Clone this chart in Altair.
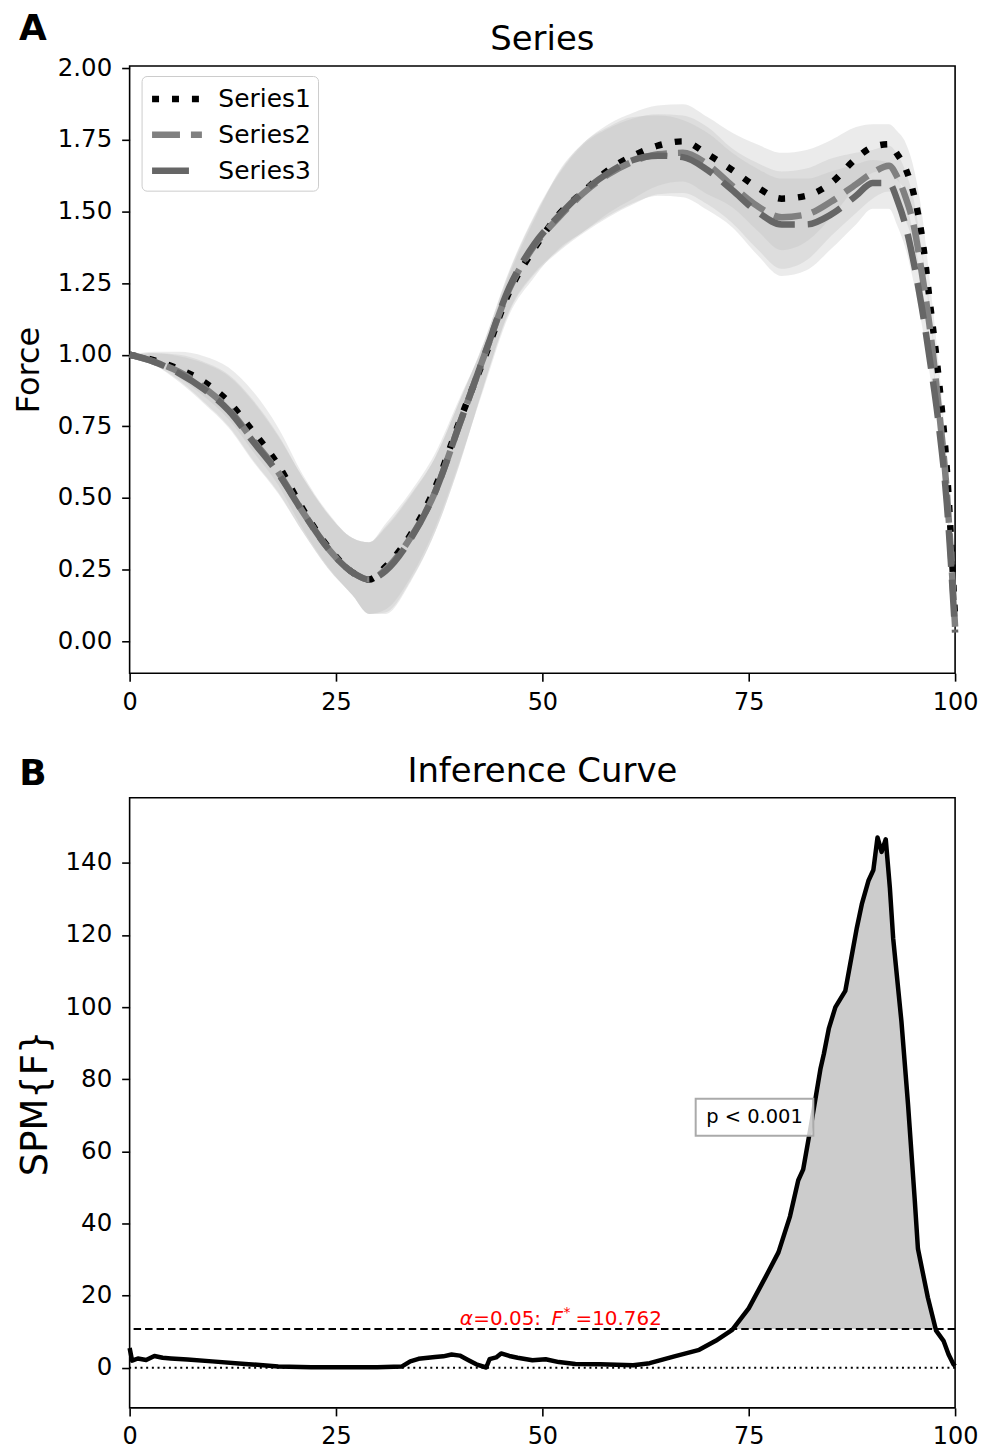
import altair as alt
import pandas as pd
import numpy as np

FONT = "DejaVu Sans"

# ---------------- Panel A data ----------------
A_X = [0, 3, 6, 9, 12, 15, 18, 21, 24, 27, 29, 31, 34, 37, 40, 43, 46, 49, 52, 55, 58, 61, 64, 67, 70,
       73, 76, 79, 82, 85, 88, 90, 92, 93, 94, 95, 96, 97, 98, 99, 100]
S1 = [1.00, 0.98, 0.95, 0.905, 0.835, 0.73, 0.615, 0.46, 0.33, 0.24, 0.215, 0.26, 0.37, 0.535, 0.77, 0.99,
      1.22, 1.37, 1.49, 1.57, 1.645, 1.695, 1.73, 1.745, 1.70, 1.645, 1.585, 1.545, 1.555, 1.60, 1.685,
      1.725, 1.735, 1.70, 1.65, 1.56, 1.41, 1.17, 0.92, 0.60, 0.08]
S2 = [1.00, 0.975, 0.94, 0.885, 0.81, 0.70, 0.59, 0.45, 0.325, 0.24, 0.215, 0.25, 0.36, 0.52, 0.76, 1.0,
      1.23, 1.38, 1.48, 1.565, 1.63, 1.675, 1.70, 1.705, 1.665, 1.59, 1.52, 1.48, 1.49, 1.535, 1.595,
      1.635, 1.66, 1.62, 1.55, 1.45, 1.28, 1.08, 0.82, 0.52, 0.05]
S3 = [1.00, 0.975, 0.935, 0.88, 0.805, 0.695, 0.585, 0.45, 0.325, 0.24, 0.215, 0.245, 0.355, 0.52, 0.76, 1.0,
      1.235, 1.385, 1.485, 1.57, 1.635, 1.68, 1.695, 1.69, 1.645, 1.575, 1.50, 1.455, 1.455, 1.49, 1.555,
      1.60, 1.60, 1.54, 1.45, 1.32, 1.16, 0.97, 0.76, 0.48, 0.03]
BAND_UP = [0, .03, .06, .09, .12, .14, .13, .12, .12, .12, .13, .15, .15, .12, .08, .05, .06, .10, .15, .17,
           .16, .15, .14, .13, .13, .13, .15, .16, .16, .15, .11, .08, .07, .08, .09, .09, .08, .07, .05, .03, .02]
BAND_DN = [0, .01, .03, .05, .06, .07, .07, .07, .07, .08, .12, .15, .15, .14, .14, .10, .08, .10, .12, .14,
           .15, .15, .14, .14, .14, .13, .15, .18, .16, .12, .10, .09, .09, .09, .08, .07, .06, .05, .04, .03, .02]
SERIES = ["Series1", "Series2", "Series3"]

# ---------------- Panel B data ----------------
B_X = [0, 0.3, 1, 2, 3, 4, 5, 7, 10, 14, 18, 22, 26, 30, 33, 34, 35, 37, 38, 39, 40, 41, 42, 43.2, 43.6,
       44.4, 45, 46, 47, 48.8, 50.4, 52, 54, 57, 61, 63, 66, 69, 71, 73, 75, 77, 78.6, 80, 81, 81.6, 82.6,
       83.7, 84.1, 84.7, 85.5, 86.7, 87.3, 88.1, 88.7, 89.5, 90.1, 90.6, 91.1, 91.6, 92.1, 92.5, 93.5, 94.3,
       95.1, 95.5, 96.7, 97.7, 98.6, 99.2, 99.8, 100]
B_F = [5.5, 2.0, 2.6, 2.2, 3.3, 2.8, 2.6, 2.3, 1.8, 1.1, 0.4, 0.2, 0.2, 0.2, 0.4, 1.8, 2.5, 3.0, 3.2, 3.7,
       3.4, 2.2, 1.0, 0.1, 2.4, 2.9, 4.0, 3.3, 2.8, 2.1, 2.4, 1.6, 1.1, 1.0, 0.7, 1.3, 3.2, 5.0, 7.5, 10.5,
       16.5, 25, 32, 42, 52, 55, 68, 83, 87, 94, 100, 104.5, 112, 122, 128.5, 135, 138, 147, 143, 146.5,
       133, 119, 96, 73, 47, 33, 19.5, 10.3, 7.5, 3.8, 1.0, 0.5]
THR = 10.762
P_LABEL = "p < 0.001"
P_X, P_Y = 75.7, 69.45
THR_LABEL_X = 40.0
THR_PARTS = ["α", "=0.05:", "F", "*", "=10.762"]
TITLES = ["Series", "Inference Curve"]
LETTERS = ["A", "B"]

# ---------------- build tables ----------------
rows_line, rows_band = [], []
for name, vals in zip(SERIES, [S1, S2, S3]):
    for x, v, u, d in zip(A_X, vals, BAND_UP, BAND_DN):
        rows_line.append({"series": name, "x": x, "y": v})
        rows_band.append({"series": name, "x": x, "lo": v - d, "hi": v + u})
df_line = pd.DataFrame(rows_line)
df_band = pd.DataFrame(rows_band)

fx, fy = [], []
for i in range(len(B_X)):
    if i > 0:
        y0, y1 = B_F[i - 1] - THR, B_F[i] - THR
        if y0 * y1 < 0:
            t = y0 / (y0 - y1)
            fx.append(B_X[i - 1] + t * (B_X[i] - B_X[i - 1]))
            fy.append(THR)
    fx.append(B_X[i])
    fy.append(max(B_F[i], THR))
df_fill = pd.DataFrame({"x": fx, "y": fy, "thr": THR})
df_b = pd.DataFrame({"x": B_X, "f": B_F})

W = 828
XAX = alt.Axis(values=[0, 25, 50, 75, 100], title=None, grid=False, tickSize=8, labelFontSize=24,
               labelPadding=9, labelFont=FONT, labelColor="black", domain=False, labelFlush=False)
xs = alt.Scale(domain=[0, 100], nice=False, zero=False)


def header(title, letter, ty, ly):
    t = alt.Chart(pd.DataFrame({"t": [title]})).mark_text(
        fontSize=34, font=FONT, align="center", baseline="middle", color="black"
    ).encode(text="t:N", x=alt.value(W / 2), y=alt.value(ty))
    l = alt.Chart(pd.DataFrame({"t": [letter]})).mark_text(
        fontSize=36, fontWeight="bold", font=FONT, align="center", baseline="middle", color="black"
    ).encode(text="t:N", x=alt.value(-97), y=alt.value(ly))
    return [t, l]


# ---------------- Panel A ----------------
ysA = alt.Scale(domain=[-0.112, 2.008], nice=False, zero=False)
yaxA = alt.Axis(values=[0, 0.25, 0.5, 0.75, 1.0, 1.25, 1.5, 1.75, 2.0], format=".2f", title="Force",
                titleFontSize=32, titleFontWeight="normal", titleFont=FONT, titlePadding=12, grid=False,
                tickSize=8, labelFontSize=24.5, labelPadding=10, labelFont=FONT, labelColor="black",
                titleColor="black", domain=False)

bands = alt.Chart(df_band).mark_area(color="#bdbdbd", opacity=0.3, interpolate="monotone").encode(
    x=alt.X("x:Q", scale=xs, axis=XAX),
    y=alt.Y("lo:Q", scale=ysA, axis=yaxA),
    y2="hi:Q",
    detail="series:N",
)
leg = alt.Legend(title=None, orient="none", legendX=12, legendY=10, symbolType="M-1,0H3", symbolSize=625,
                 symbolStrokeWidth=6.5, labelFontSize=25, labelFont=FONT, labelColor="black", padding=7,
                 strokeColor="#cccccc", fillColor="white", cornerRadius=5, labelOffset=38, rowPadding=7)
lines = alt.Chart(df_line).mark_line(strokeWidth=6.5, interpolate="monotone", strokeCap="butt").encode(
    x=alt.X("x:Q", scale=xs),
    y=alt.Y("y:Q", scale=ysA),
    color=alt.Color("series:N", scale=alt.Scale(domain=SERIES, range=["#000000", "#808080", "#666666"]),
                    legend=leg),
    strokeDash=alt.StrokeDash("series:N", scale=alt.Scale(domain=SERIES, range=[[7, 13], [28, 11], [37, 13]]),
                              legend=leg),
)

panelA = alt.layer(bands, lines, *header(TITLES[0], LETTERS[0], -26, -37)).properties(width=W, height=609)

# ---------------- Panel B ----------------
ysB = alt.Scale(domain=[-11.1, 158], nice=False, zero=False)
yaxB = alt.Axis(values=[0, 20, 40, 60, 80, 100, 120, 140], title="SPM{F}", titleFontSize=37,
                titleFontWeight="normal", titleFont=FONT, titlePadding=11, grid=False, tickSize=8,
                labelFontSize=24.5, labelPadding=10, labelFont=FONT, labelColor="black", titleColor="black",
                domain=False)

fill = alt.Chart(df_fill).mark_area(color="#cccccc", opacity=1).encode(
    x=alt.X("x:Q", scale=xs, axis=XAX),
    y=alt.Y("y:Q", scale=ysB, axis=yaxB),
    y2="thr:Q",
)
thr_rule = alt.Chart(pd.DataFrame({"y": [THR]})).mark_rule(
    color="black", strokeWidth=2, strokeDash=[7.5, 4]).encode(y=alt.Y("y:Q", scale=ysB))
zero_rule = alt.Chart(pd.DataFrame({"y": [0]})).mark_rule(
    color="black", strokeWidth=2, strokeDash=[2, 3.7]).encode(y=alt.Y("y:Q", scale=ysB))
curve = alt.Chart(df_b).mark_line(color="black", strokeWidth=4.5, strokeJoin="round").encode(
    x=alt.X("x:Q", scale=xs), y=alt.Y("f:Q", scale=ysB))

lab_df = pd.DataFrame({"x": [THR_LABEL_X], "y": [THR]})


def thr_part(text, dx, size=20, italic=False, dy=-4):
    kw = dict(fontStyle="italic") if italic else {}
    return alt.Chart(lab_df).mark_text(
        text=text, fontSize=size, font=FONT, color="red", align="left", baseline="alphabetic",
        dx=dx, dy=dy, **kw
    ).encode(x=alt.X("x:Q", scale=xs), y=alt.Y("y:Q", scale=ysB))


thr_labels = [
    thr_part(THR_PARTS[0], 0, italic=True),
    thr_part(THR_PARTS[1], 13.5),
    thr_part(THR_PARTS[2], 92, italic=True),
    thr_part(THR_PARTS[3], 104, size=14, dy=-12),
    thr_part(THR_PARTS[4], 116),
]

p_df = pd.DataFrame({"x": [P_X], "y": [P_Y], "t": [P_LABEL]})
p_box = alt.Chart(p_df).mark_rect(width=118, height=37, fill="white", fillOpacity=0.8,
                                  stroke="#aaaaaa", strokeWidth=2).encode(
    x=alt.X("x:Q", scale=xs), y=alt.Y("y:Q", scale=ysB))
p_text = alt.Chart(p_df).mark_text(fontSize=19.5, font=FONT, color="black", align="center",
                                   baseline="middle").encode(
    x=alt.X("x:Q", scale=xs), y=alt.Y("y:Q", scale=ysB), text="t:N")

panelB = alt.layer(fill, zero_rule, thr_rule, curve, *thr_labels, p_box, p_text,
                   *header(TITLES[1], LETTERS[1], -26, -24)).properties(width=W, height=612)

chart = alt.vconcat(panelA, panelB, spacing=39).properties(
    padding={"left": 3, "top": 0, "right": 5, "bottom": 0}
).configure_view(stroke="black", strokeWidth=1.6).configure_axis(
    tickColor="black", tickWidth=1.6
).configure_legend(symbolLimit=0)

chart.save("out.html", embed_options={"renderer": "svg", "actions": False})
